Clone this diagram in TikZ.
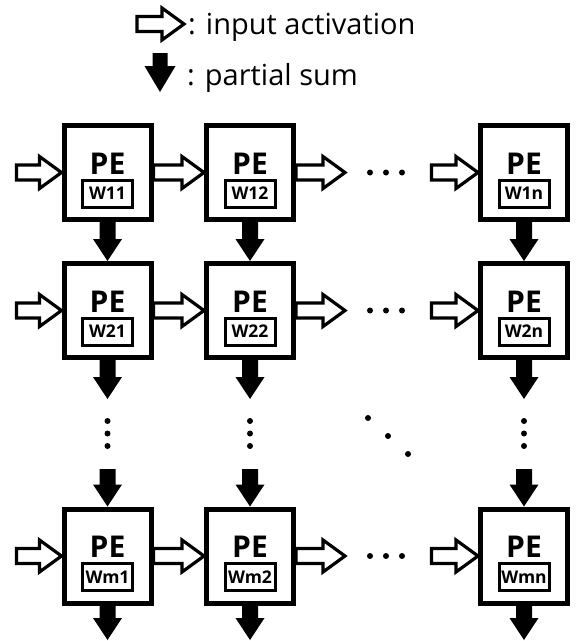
\documentclass[tikz,border=0pt]{standalone}
\usepackage{fontspec}
\setmainfont{Open Sans}
\usetikzlibrary{calc}
\tikzset{
  pebox/.style={draw=black, line width=5pt, fill=white, minimum width=87pt, minimum height=94pt, inner sep=0pt},
  wbox/.style={draw=black, line width=3pt, minimum width=50pt, minimum height=27pt, inner sep=0pt},
  petext/.style={anchor=base, inner sep=0pt, font=\fontsize{30}{30}\selectfont\bfseries},
  wtext/.style={anchor=base, inner sep=0pt, font=\fontsize{17.5}{17.5}\selectfont\bfseries},
  legtext/.style={anchor=base west, inner sep=0pt, font=\fontsize{29}{29}\selectfont},
  dotn/.style={circle, fill=black, inner sep=0pt, minimum size=6pt},
  hollow/.style={draw=black, fill=white, line width=3.2pt, line join=miter, miter limit=10,
    to path={let \p1=(\tikztostart), \p2=(\tikztotarget) in
      (\x1,\y1+7.5pt) -- (\x2-22pt,\y1+7.5pt) -- (\x2-22pt,\y1+16pt) -- (\x2,\y1)
      -- (\x2-22pt,\y1-16pt) -- (\x2-22pt,\y1-7.5pt) -- (\x1,\y1-7.5pt) -- cycle}},
  solid/.style={fill=black, draw=none,
    to path={let \p1=(\tikztostart), \p2=(\tikztotarget) in
      (\x1-8pt,\y1) -- (\x1-8pt,\y2+22pt) -- (\x1-14.5pt,\y2+22pt) -- (\x1,\y2)
      -- (\x1+14.5pt,\y2+22pt) -- (\x1+8pt,\y2+22pt) -- (\x1+8pt,\y1) -- cycle}},
  legsolid/.style={fill=black, draw=none,
    to path={let \p1=(\tikztostart), \p2=(\tikztotarget) in
      (\x1-7.5pt,\y1) -- (\x1-7.5pt,\y2+26pt) -- (\x1-15.5pt,\y2+26pt) -- (\x1,\y2)
      -- (\x1+15.5pt,\y2+26pt) -- (\x1+7.5pt,\y2+26pt) -- (\x1+7.5pt,\y1) -- cycle}},
}
\begin{document}
\begin{tikzpicture}[x=1pt, y=-1pt]
\useasboundingbox (0,0) rectangle (576,641);

% legend
\coordinate (la1) at (137,24);
\coordinate (la2) at (184,24);
\path[hollow] (la1) to (la2);
\node[legtext] (lt1) at (188,34) {: input activation};
\coordinate (lb1) at (160,53);
\coordinate (lb2) at (160,92);
\path[legsolid] (lb1) to (lb2);
\node[legtext] (lt2) at (187,85) {: partial sum};

% boxes
\foreach \r/\ry in {1/172.5, 2/310.5, m/556}{
  \foreach \c/\cx in {1/107.5, 2/250, n/524}{
    \node[pebox] (b\r\c) at (\cx,\ry) {};
    \node[petext] (p\r\c) at (\cx,\ry+1.5) {PE};
    \node[wbox] (w\r\c) at (\cx,\ry+21) {};
    \node[wtext] (t\r\c) at (\cx,\ry+27) {W\r\c};
  }
  \coordinate (in\r) at (16.5,\ry);
  \coordinate (out\r) at (345,\ry);
  \coordinate (inn\r) at (431.5,\ry);
  \path[hollow] (in\r) to (b\r1.west);
  \path[hollow] (b\r1.east) to (b\r2.west);
  \path[hollow] (b\r2.east) to (out\r);
  \path[hollow] (inn\r) to (b\r n.west);
  \node[dotn] (da\r) at (370,\ry) {};
  \node[dotn] (db\r) at (386,\ry) {};
  \node[dotn] (dc\r) at (402,\ry) {};
}

% vertical arrows
\foreach \c/\cx in {1/107.5, 2/250, n/524}{
  \path[solid] (b1\c.south) to (b2\c.north);
  \coordinate (v1\c) at (\cx,399);
  \path[solid] (b2\c.south) to (v1\c);
  \node[dotn] (va\c) at (\cx,421) {};
  \node[dotn] (vb\c) at (\cx,433.5) {};
  \node[dotn] (vc\c) at (\cx,446) {};
  \coordinate (v2\c) at (\cx,469);
  \path[solid] (v2\c) to (bm\c.north);
  \coordinate (v3\c) at (\cx,640);
  \path[solid] (bm\c.south) to (v3\c);
}

% diagonal dots
\node[dotn] (dd1) at (368,418) {};
\node[dotn] (dd2) at (388,436) {};
\node[dotn] (dd3) at (408,454) {};
\end{tikzpicture}
\end{document}
